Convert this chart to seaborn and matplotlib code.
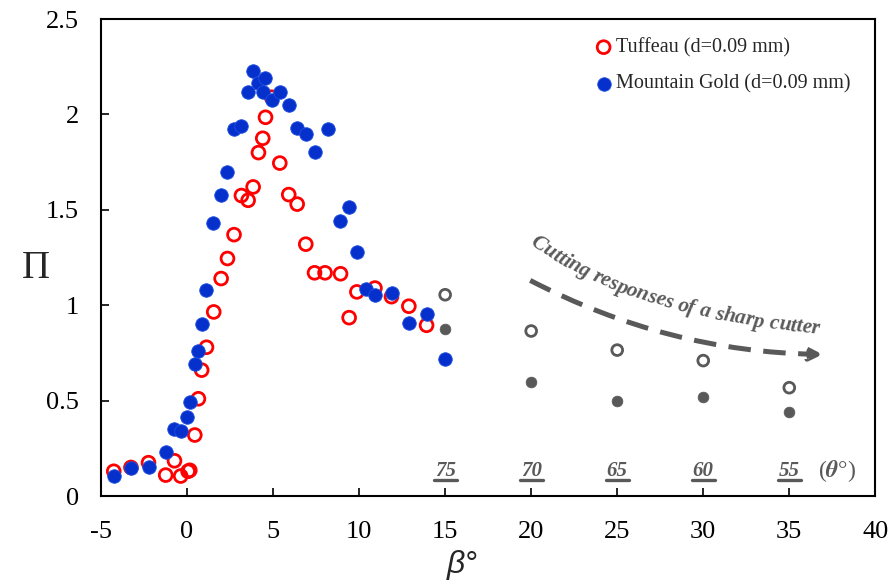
#recreamos la grafica Pi vs beta para Tuffeau y Mountain Gold
import pandas as pd
import numpy as np
import matplotlib.pyplot as plt
import seaborn as sns
from matplotlib.lines import Line2D
from matplotlib.font_manager import FontProperties

#datos
beta_tuffeau = [-4.26, -3.26, -2.24, -1.24, -0.73, -0.37, 0.06, 0.16, 0.45, 0.66,
                0.85, 1.13, 1.55, 1.98, 2.35, 2.73, 3.16, 3.55, 3.84, 4.15,
                4.40, 4.56, 4.91, 5.39, 5.91, 6.40, 6.90, 7.41, 8.02, 8.92,
                9.42, 9.87, 10.92, 11.88, 12.89, 13.92]
pi_tuffeau = [0.13, 0.15, 0.175, 0.11, 0.185, 0.105, 0.13, 0.135, 0.32, 0.51,
              0.66, 0.78, 0.965, 1.14, 1.245, 1.37, 1.575, 1.55, 1.62, 1.80,
              1.875, 1.985, 2.09, 1.745, 1.58, 1.53, 1.32, 1.17, 1.17, 1.165,
              0.935, 1.07, 1.09, 1.045, 0.995, 0.895]

beta_gold = [-4.26, -3.26, -2.24, -1.24, -0.77, -0.33, 0.0, 0.16, 0.45, 0.64,
             0.85, 1.13, 1.53, 1.96, 2.33, 2.73, 3.16, 3.55, 3.84, 4.13,
             4.40, 4.53, 4.91, 5.39, 5.91, 6.40, 6.90, 7.42, 8.18, 8.90,
             9.40, 9.90, 10.40, 10.92, 11.90, 12.90, 13.92, 15.0]
pi_gold = [0.105, 0.145, 0.15, 0.23, 0.35, 0.34, 0.415, 0.495, 0.69, 0.76,
           0.90, 1.08, 1.43, 1.58, 1.70, 1.925, 1.94, 2.115, 2.23, 2.165,
           2.115, 2.19, 2.075, 2.115, 2.05, 1.93, 1.895, 1.805, 1.925, 1.44,
           1.515, 1.28, 1.085, 1.055, 1.065, 0.905, 0.955, 0.72]

#respuestas de cortador afilado (gris)
beta_sharp = [15, 20, 25, 30, 35]
pi_sharp_open = [1.055, 0.865, 0.765, 0.71, 0.568]
pi_sharp_fill = [0.877, 0.596, 0.498, 0.519, 0.44]
theta_labels = ['75', '70', '65', '60', '55']

df_t = pd.DataFrame({'beta': beta_tuffeau, 'Pi': pi_tuffeau})
df_g = pd.DataFrame({'beta': beta_gold, 'Pi': pi_gold})
df_s = pd.DataFrame({'beta': beta_sharp, 'open': pi_sharp_open, 'fill': pi_sharp_fill})

sns.set_style('ticks')
plt.rcParams['font.family'] = ['Liberation Serif', 'DejaVu Serif']
plt.rcParams['mathtext.fontset'] = 'stix'
plt.rcParams['axes.unicode_minus'] = False

red = '#ff0000'
blue = '#0530cc'
gray = '#595959'

fig = plt.figure(figsize=(8.9, 5.85), dpi=100)
ax = fig.add_axes([0.1135, 0.152, 0.87, 0.8155])

sns.scatterplot(data=df_s, x='beta', y='open', ax=ax, marker='o', s=60,
                facecolor='none', edgecolor=gray, linewidth=2, zorder=3)
sns.scatterplot(data=df_s, x='beta', y='fill', ax=ax, marker='o', s=60,
                color=gray, edgecolor=gray, linewidth=0.5, zorder=3)
sns.scatterplot(data=df_t, x='beta', y='Pi', ax=ax, marker='o', s=85,
                facecolor='none', edgecolor=red, linewidth=2,
                label='Tuffeau (d=0.09 mm)', zorder=4)
sns.scatterplot(data=df_g, x='beta', y='Pi', ax=ax, marker='o', s=95,
                color=blue, edgecolor='#1f4fe0', linewidth=0.6,
                label='Mountain Gold (d=0.09 mm)', zorder=5)

ax.set_xlim(-5, 40)
ax.set_ylim(0, 2.5)
ax.set_xticks(np.arange(-5, 41, 5))
ax.set_yticks([0, 0.5, 1, 1.5, 2, 2.5])
ax.set_yticklabels(['0', '0.5', '1', '1.5', '2', '2.5'])
ax.tick_params(direction='in', length=6, width=1.2, labelsize=19, colors='black')
ax.tick_params(axis='x', pad=18)
ax.tick_params(axis='y', pad=16)
for sp in ax.spines.values():
    sp.set_visible(True)
    sp.set_linewidth(1.5)
    sp.set_color('black')

ax.set_xlabel('β°', fontsize=23, style='italic', family=['Liberation Sans', 'DejaVu Sans'])
ax.xaxis.set_label_coords(0.466, -0.112)
ax.set_ylabel('Π', fontsize=28, rotation=0, ha='center', va='center')
ax.yaxis.set_label_coords(-0.084, 0.478)

leg = ax.legend(loc='upper right', bbox_to_anchor=(0.978, 0.977), frameon=False,
                fontsize=14.5, handletextpad=0.1, handlelength=1.0,
                labelspacing=0.85, borderaxespad=0)

#flecha discontinua curva
ax.annotate('', xy=(37.1, 0.742), xytext=(19.8, 1.137),
            arrowprops=dict(arrowstyle='-|>', connectionstyle='arc3,rad=0.12',
                            linestyle=(0, (4.5, 2.5)), lw=3.6, color=gray,
                            mutation_scale=18, capstyle='butt'))

#etiquetas theta subrayadas
theta_txt = []
for b, lab in zip(beta_sharp, theta_labels):
    theta_txt.append(ax.text(b, 0.13, lab, ha='center', va='center', fontsize=15,
                             fontweight='bold', style='italic', color=gray))
ax.text(37.8, 0.13, r'($\boldsymbol{\theta}$°)', ha='center', va='center',
        fontsize=17, color=gray)

fig.canvas.draw()
r = fig.canvas.get_renderer()
inv = fig.transFigure.inverted()
for t in theta_txt:
    bb = t.get_window_extent(r)
    (x0, y0), (x1, _) = inv.transform([(bb.x0 - 1, bb.y0 + 1.5), (bb.x1 + 1, bb.y0 + 1.5)])
    fig.add_artist(Line2D([x0, x1], [y0, y0], transform=fig.transFigure,
                          color=gray, lw=2.4))

#texto curvo letra por letra sobre una curva de Bezier
label = 'Cutting responses of a sharp cutter'
prop = FontProperties(family='Liberation Serif', weight='bold', style='italic', size=15.3)
ctrl = ax.transData.transform([(19.9, 1.32), (25.8, 0.93), (37.66, 0.842)])
tt = np.linspace(0, 1, 400)[:, None]
curve = (1 - tt) ** 2 * ctrl[0] + 2 * (1 - tt) * tt * ctrl[1] + tt ** 2 * ctrl[2]
seg = np.hypot(*np.diff(curve, axis=0).T)
arc = np.concatenate([[0], np.cumsum(seg)])
def width(s):
    return r.get_text_width_height_descent(s, prop, ismath=False)[0]
for i, ch in enumerate(label):
    if ch == ' ':
        continue
    wc = width(ch)
    s0 = width(label[:i + 1]) - wc
    px = np.interp(s0, arc, curve[:, 0])
    py = np.interp(s0, arc, curve[:, 1])
    sm = s0 + wc / 2
    j = min(np.searchsorted(arc, sm), len(curve) - 2)
    ang = np.degrees(np.arctan2(curve[j + 1, 1] - curve[j, 1], curve[j + 1, 0] - curve[j, 0]))
    xd, yd = ax.transData.inverted().transform((px, py))
    ax.text(xd, yd, ch, fontproperties=prop, color=gray, rotation=ang,
            rotation_mode='anchor', ha='left', va='baseline')

fig.savefig('out.png', dpi=100)
